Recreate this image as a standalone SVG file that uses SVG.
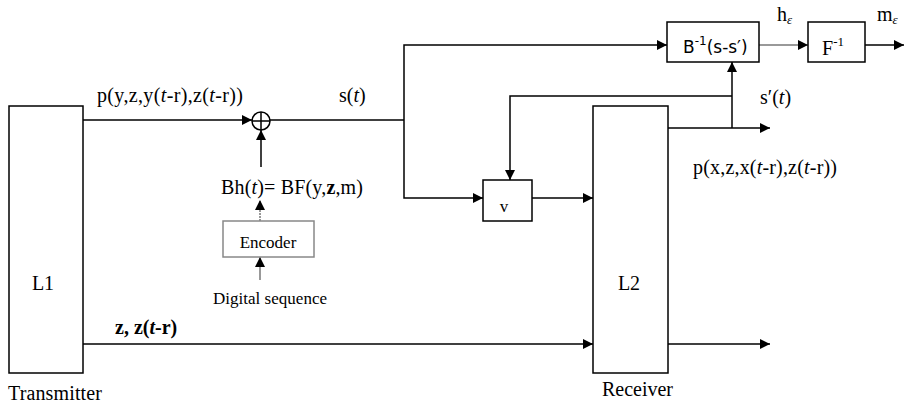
<svg xmlns="http://www.w3.org/2000/svg" width="904" height="403" viewBox="0 0 904 403">
<defs>
<marker id="ah" viewBox="0 0 10 10" refX="10" refY="5" markerWidth="10" markerHeight="10" markerUnits="userSpaceOnUse" orient="auto">
<path d="M0,0 L10,5 L0,10 z" fill="#000"/>
</marker>
</defs>
<style>
.box{fill:#fff;stroke:#000;stroke-width:1.5}
.gbox{fill:#fff;stroke:#888;stroke-width:1.5}
.ln{fill:none;stroke:#000;stroke-width:1.5}
.gln{fill:none;stroke:#777;stroke-width:1.5}
text{font-family:"Liberation Serif","Times New Roman",serif;font-size:20px;fill:#000}
.sm{font-size:17px}
.it{font-style:italic}
.sans{font-family:"DejaVu Sans","Liberation Sans",sans-serif;font-size:17px}
</style>
<rect width="904" height="403" fill="#fff"/>

<g id="connectors">
<!-- L1 to adder -->
<path class="ln" d="M83,120 H252" marker-end="url(#ah)"/>
<!-- adder output to split -->
<path class="ln" d="M270,120 H404"/>
<!-- split up to B box -->
<path class="ln" d="M404,120 V45 H667" marker-end="url(#ah)"/>
<!-- split down to v -->
<path class="ln" d="M404,120 V198 H483" marker-end="url(#ah)"/>
<!-- v to L2 -->
<path class="ln" d="M532,198 H593" marker-end="url(#ah)"/>
<!-- L2 upper output -->
<path class="ln" d="M668,128 H770" marker-end="url(#ah)"/>
<!-- feedback s'(t) to B box -->
<path class="ln" d="M732,128 V62" marker-end="url(#ah)"/>
<!-- feedback to v -->
<path class="ln" d="M732,96 H510 V180" marker-end="url(#ah)"/>
<!-- B to F -->
<path class="gln" d="M759,45 H808" marker-end="url(#ah)"/>
<!-- F output -->
<path class="ln" d="M865,45 H904" marker-end="url(#ah)"/>
<!-- Bh to adder -->
<path class="ln" d="M261,167 V130" marker-end="url(#ah)"/>
<!-- encoder to Bh -->
<path class="gln" d="M260,221 V200" stroke-dasharray="2,1" marker-end="url(#ah)"/>
<!-- digital sequence to encoder -->
<path class="gln" d="M260,280 V257" marker-end="url(#ah)"/>
<!-- L1 to L2 bottom -->
<path class="ln" d="M83,344 H593" marker-end="url(#ah)"/>
<!-- L2 bottom output -->
<path class="ln" d="M668,344 H770" marker-end="url(#ah)"/>
</g>

<g id="L1">
<rect class="box" x="9" y="106" width="74" height="267"/>
<text x="43" y="290" text-anchor="middle">L1</text>
<text x="8" y="400" textLength="94">Transmitter</text>
</g>

<g id="L2">
<rect class="box" x="593" y="106" width="75" height="267"/>
<text x="629" y="290" text-anchor="middle">L2</text>
<text x="602" y="396" textLength="71">Receiver</text>
</g>

<g id="adder">
<circle class="ln" cx="261" cy="121" r="9" fill="#fff"/>
<path class="ln" d="M252,121 H270 M261,112 V130"/>
</g>

<g id="encoder">
<rect class="gbox" x="223" y="221" width="91" height="36"/>
<text class="sm" x="268" y="248" text-anchor="middle">Encoder</text>
</g>

<g id="v">
<rect class="box" x="483" y="180" width="49" height="41"/>
<text class="sm" x="504" y="212" text-anchor="middle">v</text>
</g>

<g id="Binv">
<rect class="box" x="667" y="22" width="92" height="40"/>
<text class="sans" x="683" y="53">B<tspan font-size="12" dy="-8">-1</tspan><tspan dy="8">(s-s′)</tspan></text>
</g>

<g id="Finv">
<rect class="box" x="808" y="22" width="57" height="40"/>
<text x="822" y="55">F<tspan font-size="13" dy="-9">-1</tspan></text>
</g>

<g id="labels">
<text x="97" y="102" textLength="146">p(y,z,y(<tspan class="it">t</tspan>-r),z(<tspan class="it">t</tspan>-r))</text>
<text x="339" y="102">s(<tspan class="it">t</tspan>)</text>
<text x="221" y="194" textLength="142">Bh(<tspan class="it">t</tspan>)= BF(y,<tspan font-weight="bold">z</tspan>,m)</text>
<text class="sm" x="213" y="304" textLength="114">Digital sequence</text>
<text x="115" y="334" font-weight="bold">z, z(<tspan class="it">t</tspan>-r)</text>
<text x="760" y="104">s′(<tspan class="it">t</tspan>)</text>
<text x="693" y="174" textLength="144">p(x,z,x(<tspan class="it">t</tspan>-r),z(<tspan class="it">t</tspan>-r))</text>
<text x="777" y="21">h<tspan font-size="13" class="it" dy="3">ε</tspan></text>
<text x="877" y="21">m<tspan font-size="13" class="it" dy="3">ε</tspan></text>
</g>
</svg>
